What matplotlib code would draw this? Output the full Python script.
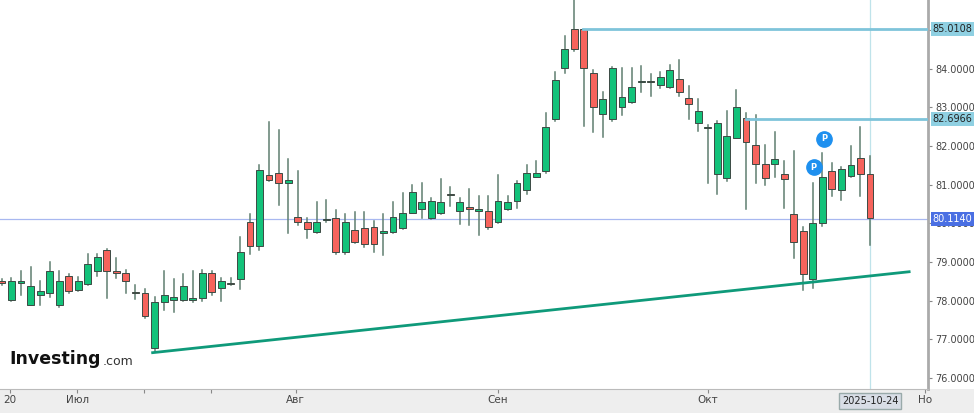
import matplotlib.pyplot as plt
from matplotlib.patches import Rectangle

# OHLC
opens = [78.50, 78.03, 78.45, 77.90, 78.14, 78.19, 77.90, 78.65, 78.29, 78.44,
         78.78, 79.32, 78.76, 78.73, 78.22, 78.19, 76.77, 77.98, 78.03, 78.03,
         78.03, 78.08, 78.73, 78.34, 78.47, 78.55, 80.04, 79.42, 81.24, 81.29,
         81.03, 80.17, 80.04, 79.78, 80.09, 80.14, 79.27, 79.83, 79.89, 79.91,
         79.76, 79.78, 79.89, 80.28, 80.38, 80.14, 80.28, 80.75, 80.33, 80.43,
         80.33, 80.33, 80.04, 80.38, 80.59, 80.85, 81.21, 81.34, 82.70, 84.02,
         85.03, 85.03, 83.89, 82.83, 82.70, 83.01, 83.14, 83.64, 83.68, 83.58,
         83.53, 83.74, 83.24, 82.60, 82.47, 81.28, 81.18, 82.21, 82.73, 82.03,
         81.54, 81.54, 81.28, 80.25, 79.81, 78.55, 80.01, 81.36, 80.85, 81.23,
         81.70, 81.28]
closes = [78.45, 78.52, 78.50, 78.39, 78.26, 78.78, 78.52, 78.24, 78.52, 78.96,
          79.12, 78.76, 78.73, 78.52, 78.19, 77.60, 77.98, 78.14, 78.11, 78.39,
          78.08, 78.73, 78.22, 78.52, 78.44, 79.27, 79.42, 81.39, 81.13, 81.03,
          81.13, 80.04, 79.86, 80.04, 80.12, 79.27, 80.04, 79.53, 79.47, 79.47,
          79.79, 80.17, 80.28, 80.80, 80.54, 80.59, 80.56, 80.72, 80.54, 80.38,
          80.36, 79.91, 80.59, 80.56, 81.03, 81.31, 81.29, 82.50, 83.71, 84.50,
          84.50, 84.02, 83.01, 83.22, 84.02, 83.27, 83.53, 83.67, 83.64, 83.79,
          83.97, 83.40, 83.09, 82.91, 82.50, 82.60, 82.26, 83.01, 82.11, 81.54,
          81.18, 81.67, 81.15, 79.53, 78.68, 80.01, 81.21, 80.90, 81.41, 81.52,
          81.28, 80.15]
highs = [78.55, 78.60, 78.76, 78.88, 78.52, 79.01, 78.76, 78.70, 78.62, 79.20,
         79.20, 79.35, 79.10, 78.80, 78.40, 78.30, 78.10, 78.76, 78.55, 78.70,
         78.76, 78.80, 78.78, 78.60, 78.60, 79.65, 80.25, 81.50, 82.63, 82.40,
         81.65, 81.35, 80.15, 80.55, 80.60, 80.35, 80.25, 80.30, 80.30, 80.05,
         80.25, 80.55, 80.78, 81.00, 81.05, 80.65, 81.15, 80.95, 80.65, 80.90,
         80.70, 80.70, 81.25, 80.70, 81.10, 81.50, 81.60, 82.85, 83.90, 84.85,
         85.77, 84.85, 83.95, 83.40, 84.05, 84.02, 84.02, 84.06, 83.86, 83.90,
         84.10, 84.23, 83.55, 83.20, 82.55, 82.65, 82.90, 83.45, 82.85, 82.80,
         82.03, 82.36, 81.60, 81.87, 79.90, 81.05, 81.83, 81.57, 81.45, 82.00,
         82.50, 81.75]
lows = [78.40, 78.00, 78.14, 77.88, 77.90, 78.10, 77.85, 78.20, 78.25, 78.40,
        78.65, 78.08, 78.60, 78.20, 78.05, 77.55, 76.70, 77.75, 77.70, 78.00,
        77.98, 78.00, 78.15, 78.00, 78.40, 78.30, 79.20, 79.30, 81.10, 80.48,
        79.76, 79.95, 79.63, 79.75, 80.04, 79.22, 79.20, 79.50, 79.40, 79.25,
        79.18, 79.75, 79.85, 80.28, 80.15, 80.10, 80.25, 80.45, 79.98, 79.95,
        79.70, 79.85, 80.00, 80.35, 80.40, 80.75, 81.20, 81.30, 82.65, 83.89,
        84.45, 82.52, 82.36, 82.23, 82.65, 82.80, 83.10, 83.40, 83.30, 83.50,
        83.50, 83.30, 82.70, 82.39, 81.05, 80.77, 81.10, 82.20, 80.38, 81.05,
        81.00, 81.20, 80.40, 79.10, 78.29, 78.32, 79.92, 80.70, 80.60, 81.20,
        80.70, 79.45]

month_labels = ["20", "Июл", "Авг", "Сен", "Окт", "Но"]
month_pos = [0.85, 7.9, 30.8, 52.0, 74.0, 96.8]
tick_pos = [0.85, 7.9, 14.9, 21.9, 30.8, 52.0, 74.0, 96.8]
trend_x = [15.8, 95.1]
trend_y = [76.66, 78.75]
levels = [(85.0108, 60.9), (82.6966, 78.0)]
last_price = 80.114
y_ticks = [76, 77, 78, 79, 80, 81, 82, 83, 84, 85]

green = "#13c27a"
red = "#f6635c"

fig = plt.figure(figsize=(9.74, 4.13), dpi=100)
fig.patches.append(Rectangle((0, 0), 1, 0.058, transform=fig.transFigure,
                             fc="#eeeeee", ec="none", zorder=-5))
ax = fig.add_axes([0.0, 0.058, 0.953, 0.942])
ax.set_xlim(-0.2, 97.1)
ax.set_ylim(75.72, 85.77)

for i in range(len(opens)):
    o, c, h, l = opens[i], closes[i], highs[i], lows[i]
    col = green if c >= o else red
    ax.plot([i, i], [l, h], color="#5f7f70", lw=1.1, zorder=2)
    ax.add_patch(Rectangle((i - 0.36, min(o, c)), 0.72, max(abs(c - o), 0.03),
                           facecolor=col, edgecolor="#3c4a44", lw=0.7, zorder=3))

ax.plot(trend_x, trend_y, color="#0f9a7a", lw=2, zorder=4)
for lv, start in levels:
    ax.plot([start, 97.3], [lv, lv], color="#7fc4da", lw=2, zorder=4)
ax.axhline(last_price, color="#a8b8f0", lw=0.9, zorder=1)
ax.axvline(91, color="#bfe3ea", lw=0.9, zorder=1)

# "P" markers
for px, py in [(86.2, 82.18), (85.1, 81.45)]:
    ax.plot(px, py, "o", ms=11, color="#1e90ef", zorder=6)
    ax.text(px, py, "P", color="white", fontsize=6, fontweight="bold",
            ha="center", va="center", zorder=7)

ax.yaxis.tick_right()
ax.set_yticks(y_ticks)
ax.set_yticklabels([f"{v:.4f}" for v in y_ticks], fontsize=7, color="#444444")
ax.tick_params(axis="y", length=3, color="#888888", pad=2)
ax.set_xticks(tick_pos)
ax.set_xticklabels([month_labels[month_pos.index(p)] if p in month_pos else "" for p in tick_pos],
                   fontsize=7.5, color="#444444")
ax.tick_params(axis="x", length=3, color="#888888", pad=1)
for s in ["top", "left"]:
    ax.spines[s].set_visible(False)
ax.spines["right"].set_color("#aaaaaa")
ax.spines["right"].set_linewidth(2)
ax.spines["bottom"].set_color("#bbbbbb")

box_kw = dict(fontsize=7, ha="left", va="center", transform=ax.get_yaxis_transform(), zorder=8)
ax.text(1.005, 85.0108, "85.0108", color="#222222",
        bbox=dict(boxstyle="square,pad=0.2", fc="#8fd0e2", ec="none"), **box_kw)
ax.text(1.005, 82.6966, "82.6966", color="#222222",
        bbox=dict(boxstyle="square,pad=0.2", fc="#8fd0e2", ec="none"), **box_kw)
ax.text(1.005, last_price, "80.1140", color="white",
        bbox=dict(boxstyle="square,pad=0.2", fc="#4a6fe3", ec="none"), **box_kw)

ax.text(91, -0.03, "2025-10-24", transform=ax.get_xaxis_transform(), fontsize=7,
        ha="center", va="center", color="#222222",
        bbox=dict(boxstyle="square,pad=0.3", fc="#d8dde6", ec="#9aa"))

t1 = ax.text(0.01, 0.065, "Investing", transform=ax.transAxes, fontsize=12.5, fontweight="bold",
             color="#111111", ha="left", va="baseline")
ax.annotate(".com", xy=(1, 0), xycoords=t1, xytext=(1, 0), textcoords="offset points",
            fontsize=9, color="#333333", ha="left", va="bottom")

fig.savefig("out.png", dpi=100)
